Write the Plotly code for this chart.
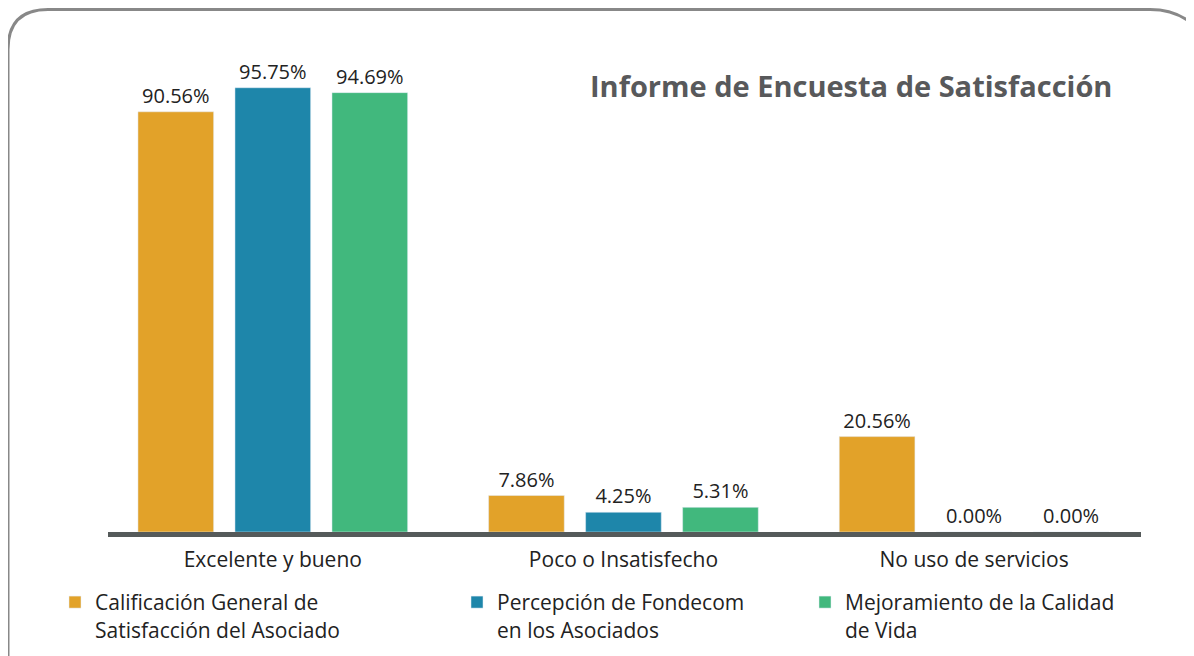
import plotly.graph_objects as go

categories = ["Excelente y bueno", "Poco o Insatisfecho", "No uso de servicios"]
series_names = [
    "Calificación General de<br>Satisfacción del Asociado",
    "Percepción de Fondecom<br>en los Asociados",
    "Mejoramiento de la Calidad<br>de Vida",
]
calificacion = [90.56, 7.86, 20.56]
percepcion = [95.75, 4.25, 0.00]
mejoramiento = [94.69, 5.31, 0.00]
colors = ["#E2A229", "#1E86AA", "#41B87D"]

W, H = 1194, 656
OFF = 8  # page body margin
L, R, T, B = 108, 1141, 67.5, 532  # plot area in page pixels

def px2paper_x(px):
    return (px - L) / (R - L)

def px2paper_y(py):
    return (B - py) / (B - T)

font_family = "'Open Sans', 'Noto Sans', sans-serif"

fig = go.Figure()
legends = ["legend", "legend2", "legend3"]
for vals, name, col, lg in zip([calificacion, percepcion, mejoramiento], series_names, colors, legends):
    fig.add_trace(go.Bar(
        x=categories, y=vals, name=name, marker_color=col,
        text=[f"{v:.2f}%" for v in vals], textposition="outside",
        textfont=dict(size=20, color="#222222", family=font_family), cliponaxis=False,
        legend=lg,
    ))

leg_common = dict(orientation="v", yanchor="top", xanchor="left", valign="top",
                  font=dict(size=21, color="#222222", family=font_family),
                  bgcolor="rgba(0,0,0,0)", borderwidth=0)
leg_y = px2paper_y(582)

# rounded border (page pixel coords)
r = 40
x0, y0, y1 = 8, 9, 720
path = (f"M {px2paper_x(x0)} {px2paper_y(y1)} "
        f"L {px2paper_x(x0)} {px2paper_y(y0 + r)} "
        f"Q {px2paper_x(x0)} {px2paper_y(y0)} {px2paper_x(x0 + r)} {px2paper_y(y0)} "
        f"L {px2paper_x(1150)} {px2paper_y(y0)} "
        f"Q {px2paper_x(1185)} {px2paper_y(y0)} {px2paper_x(1205)} {px2paper_y(y0 + 28)}")

fig.update_layout(
    width=W, height=H,
    margin=dict(l=L - OFF, r=W - (R - OFF), t=T - OFF, b=H - (B - OFF), pad=0),
    paper_bgcolor="white", plot_bgcolor="white",
    font=dict(family=font_family, size=21, color="#222222"),
    barmode="group", bargap=0.17, bargroupgap=0.22,
    showlegend=True,
    legend=dict(x=px2paper_x(55), y=leg_y, **leg_common),
    legend2=dict(x=px2paper_x(457), y=leg_y, **leg_common),
    legend3=dict(x=px2paper_x(805), y=leg_y, **leg_common),
    xaxis=dict(showline=True, linewidth=5, linecolor="#555a5a", ticks="",
               tickfont=dict(size=21, color="#222222", family=font_family), range=[-0.47, 2.476],
               showgrid=False, zeroline=False, ticklabelstandoff=5),
    yaxis=dict(visible=False, range=[0, 100], showgrid=False, zeroline=False),
    shapes=[dict(type="path", xref="paper", yref="paper", path=path,
                 line=dict(color="#888888", width=3), fillcolor="rgba(0,0,0,0)", layer="below")],
    annotations=[dict(text="<b>Informe de Encuesta de Satisfacción</b>", xref="paper", yref="paper",
                      x=px2paper_x(851), y=px2paper_y(85), xanchor="center", yanchor="middle",
                      showarrow=False, font=dict(size=29, color="#58595b", family=font_family))],
)

fig.write_html("out.html")
